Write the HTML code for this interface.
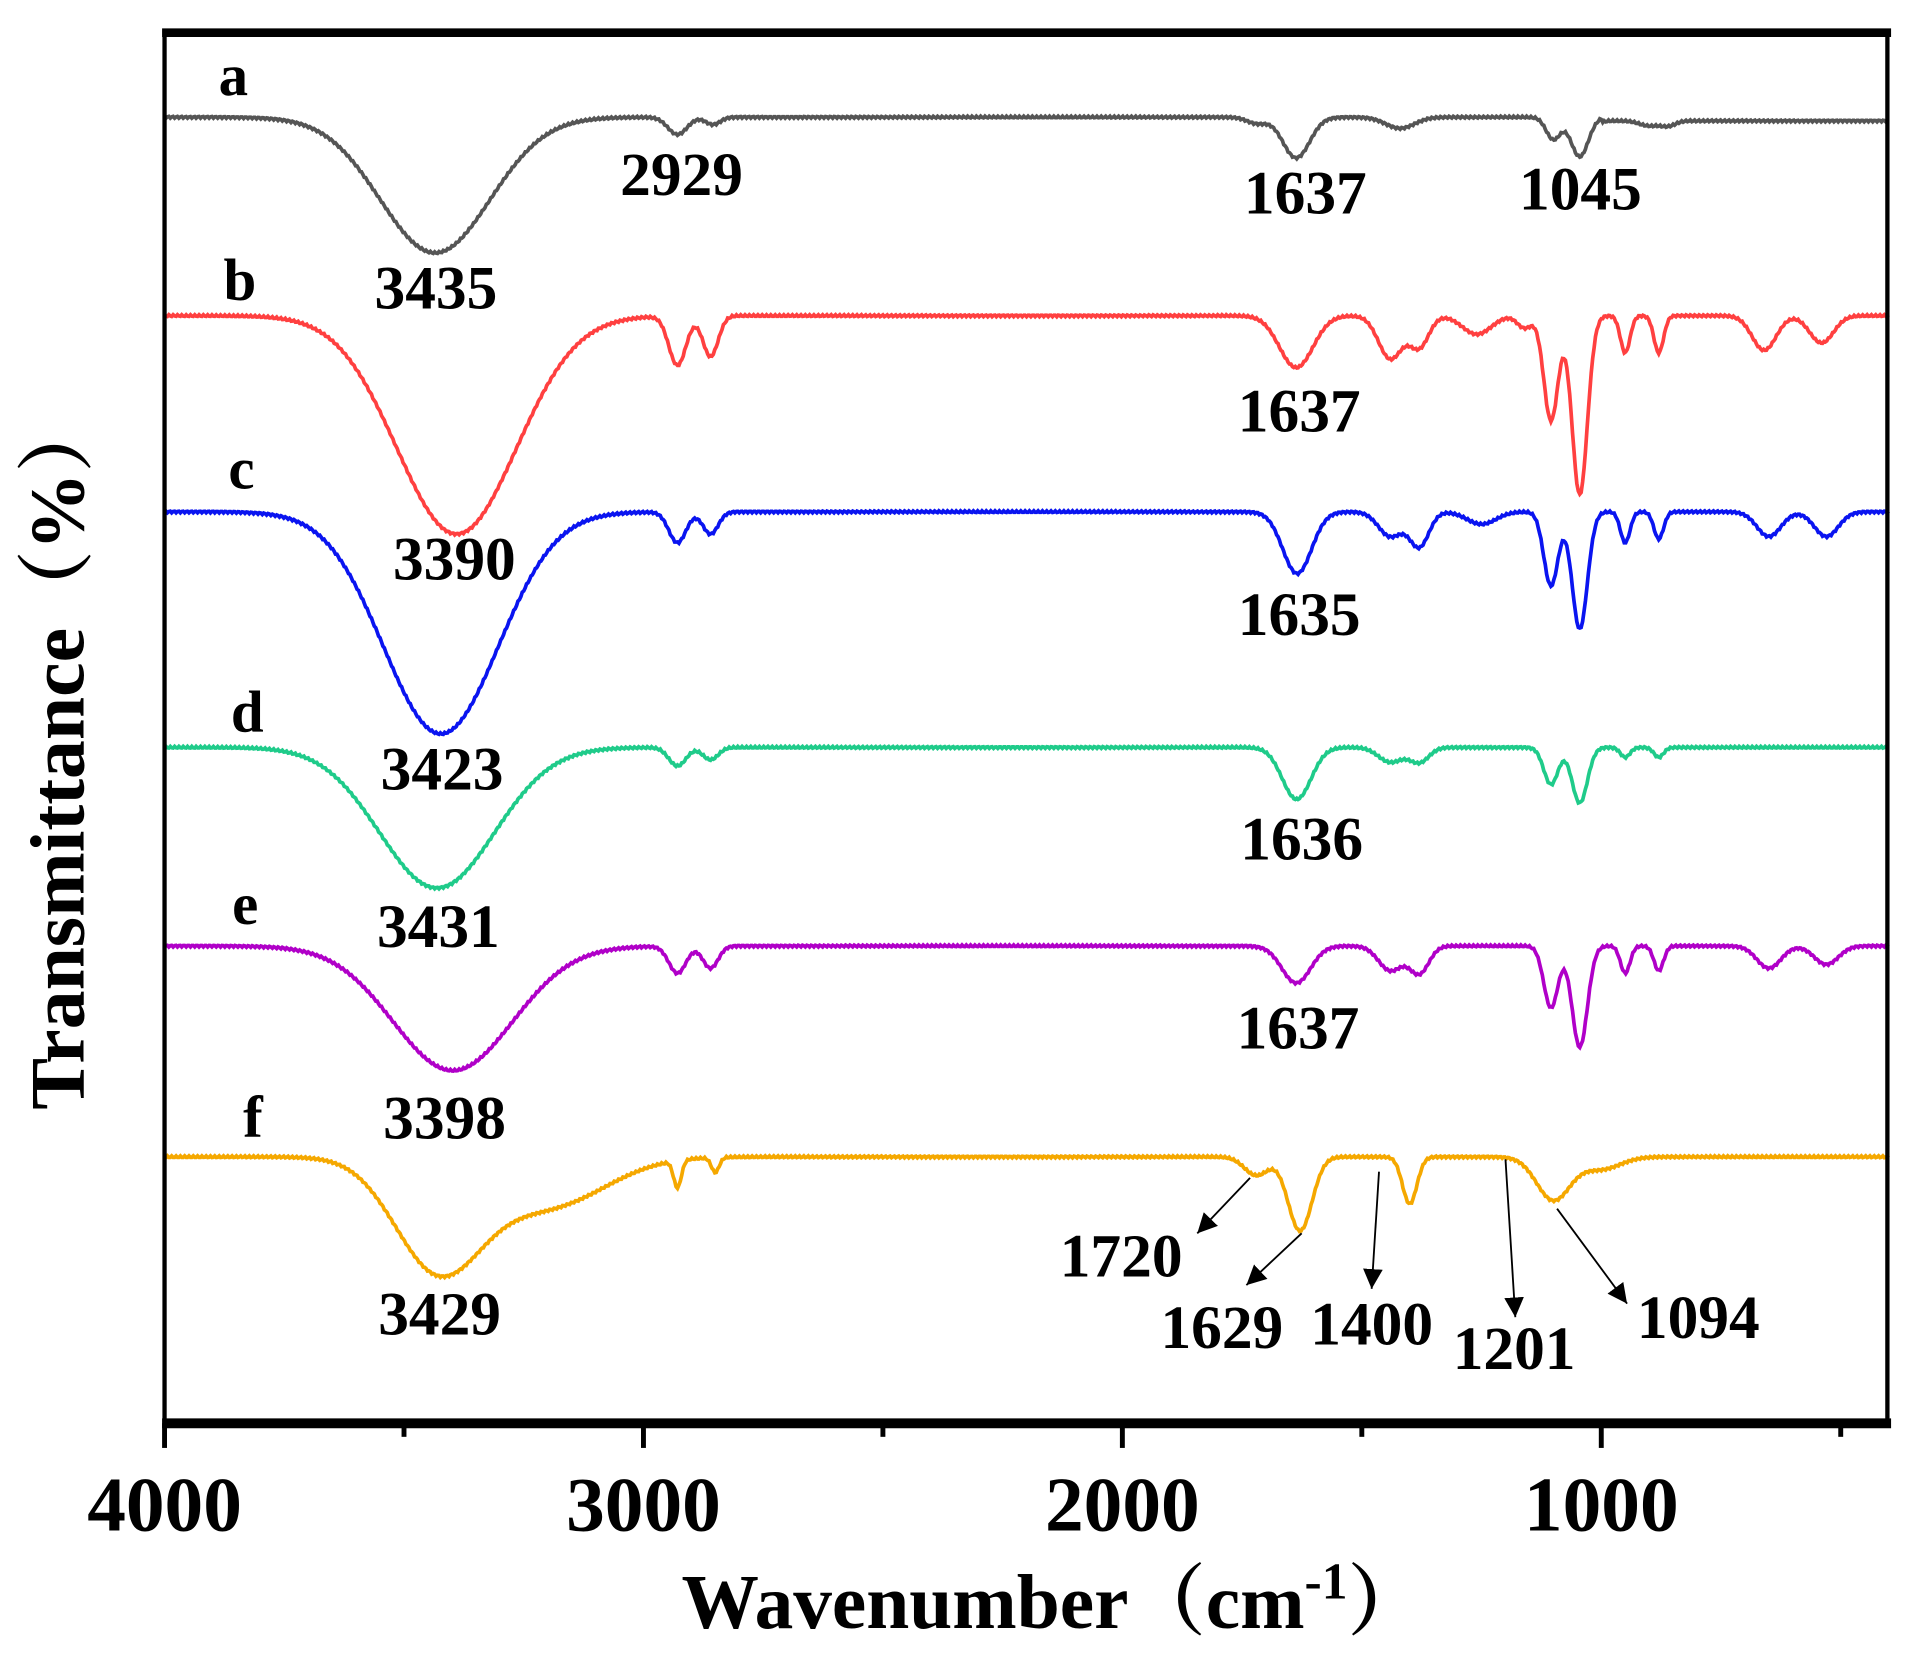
<!DOCTYPE html>
<html><head><meta charset="utf-8"><style>
html,body{margin:0;padding:0;background:#fff;}
svg{display:block;}
text{font-family:"Liberation Serif","Noto Serif CJK SC",serif;font-weight:bold;fill:#000;}
</style></head><body>
<svg id="s" width="1923" height="1665" viewBox="0 0 1566 1350" preserveAspectRatio="none" xmlns="http://www.w3.org/2000/svg">
<defs>
<marker id="ah" viewBox="0 0 10 10" refX="10" refY="5" markerWidth="16" markerHeight="16" orient="auto" markerUnits="userSpaceOnUse"><path d="M0,0 L10,5 L0,10 z" fill="#000"/></marker></defs>
<g id="curves"></g>
<rect x="134" y="26.5" width="1403" height="1127" fill="none" stroke="#000" stroke-width="3.5"/>
<line x1="132" y1="26.5" x2="1540" y2="26.5" stroke="#000" stroke-width="7"/>
<line x1="132" y1="1154" x2="1540" y2="1154" stroke="#000" stroke-width="8"/>
<g stroke="#000" stroke-width="4">
<line x1="134" y1="1154" x2="134" y2="1174"/><line x1="524" y1="1154" x2="524" y2="1174"/>
<line x1="914" y1="1154" x2="914" y2="1174"/><line x1="1304" y1="1154" x2="1304" y2="1174"/>
<line x1="329" y1="1154" x2="329" y2="1165"/><line x1="719" y1="1154" x2="719" y2="1165"/>
<line x1="1109" y1="1154" x2="1109" y2="1165"/><line x1="1499" y1="1154" x2="1499" y2="1165"/>
</g>
<g font-size="63" text-anchor="middle">
<text x="134" y="1241">4000</text><text x="524" y="1241">3000</text>
<text x="914" y="1241">2000</text><text x="1304" y="1241">1000</text>
</g>
<text x="555" y="1320" font-size="63">Wavenumber（cm<tspan font-size="42" dy="-24">-1</tspan><tspan dy="24">）</tspan></text>
<text transform="translate(68,610) rotate(-90)" font-size="63" text-anchor="middle">Transmittance（%）</text>
<g font-size="48">
<text x="178" y="77">a</text><text x="182" y="243">b</text><text x="186" y="396">c</text>
<text x="188" y="593">d</text><text x="189" y="749">e</text><text x="198" y="922">f</text>
</g>
<g font-size="50" text-anchor="middle">
<text x="355" y="250">3435</text><text x="555" y="158">2929</text><text x="1063" y="173">1637</text><text x="1287" y="170">1045</text>
<text x="370" y="470">3390</text><text x="1058" y="350">1637</text>
<text x="360" y="640">3423</text><text x="1058" y="515">1635</text>
<text x="357" y="768">3431</text><text x="1060" y="697">1636</text>
<text x="362" y="923">3398</text><text x="1057" y="850">1637</text>
<text x="358" y="1082">3429</text><text x="913" y="1035">1720</text><text x="995" y="1093">1629</text>
<text x="1117" y="1090">1400</text><text x="1233" y="1110">1201</text><text x="1383" y="1085">1094</text>
</g>
<g stroke="#000" stroke-width="1.5" marker-end="url(#ah)">
<line x1="1018" y1="955" x2="975" y2="1000"/>
<line x1="1060" y1="1000" x2="1015" y2="1042"/>
<line x1="1123" y1="950" x2="1117" y2="1045"/>
<line x1="1226" y1="940" x2="1234" y2="1068"/>
<line x1="1268" y1="980" x2="1325" y2="1057"/>
</g>
</svg>
<script>
var series=[
 {c:"#555555",b:95,d:[[3435,110,115],[2929,14,20],[2855,6,15],[1720,5,20],[1637,33,28],[1420,9,30],[1100,18,15],[1045,32,18],[900,4,20],[860,4,15]],t:3},
 {c:"#ff4040",b:256,d:[[3390,177,125],[2929,40,18],[2860,33,16],[1637,42,35],[1440,35,25],[1380,25,20],[1260,15,30],[1160,10,15],[1105,85,15],[1045,145,16],[950,30,10],[880,30,10],[660,28,25],[540,22,25]],t:0},
 {c:"#0a14f0",b:415,d:[[3423,180,120],[2929,25,18],[2860,18,16],[1635,50,30],[1440,20,25],[1380,28,20],[1250,10,30],[1105,60,15],[1045,95,16],[950,25,10],[880,22,10],[650,20,25],[530,20,25]],t:0},
 {c:"#1fcb8a",b:606,d:[[3431,114,120],[2929,15,18],[2860,10,16],[1636,42,30],[1440,12,25],[1380,12,20],[1105,30,15],[1045,45,16],[950,8,10],[880,8,10]],t:0},
 {c:"#b000c8",b:767,d:[[3398,101,125],[2929,22,18],[2860,18,16],[1637,30,30],[1440,20,25],[1380,22,20],[1105,50,15],[1045,82,16],[950,22,10],[880,20,10],[650,18,25],[530,15,25]],t:0},
 {c:"#f5a800",b:938,d:[[3429,90,90],[3200,40,120],[2929,22,8],[2850,12,8],[1720,15,25],[1629,60,25],[1400,38,15],[1100,35,35],[1000,10,40]],t:0}
];
var g=document.getElementById("curves"),h="";
series.forEach(function(s,k){
 var p="";
 for(var w=4000;w>=400;w-=3){
  var y=s.b;
  s.d.forEach(function(d){var z=(w-d[0])/d[2];y+=d[1]*Math.exp(-0.5*z*z);});
  if(w<1000)y+=s.t;
  y+=Math.sin(w*0.7+k)*0.8;
  var x=134+(4000-w)*0.39;
  p+=(p?"L":"M")+x.toFixed(1)+","+y.toFixed(1);
 }
 h+='<path d="'+p+'" fill="none" stroke="'+s.c+'" stroke-width="3"/>';
});
g.innerHTML=h;
</script>
</body></html>
